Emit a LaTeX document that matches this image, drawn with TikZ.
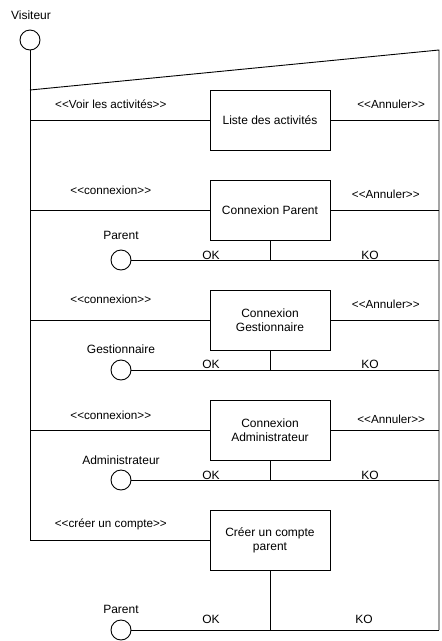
\documentclass[tikz,border=0pt]{standalone}
\usepackage{fontspec}
\setmainfont{Liberation Sans}
\usetikzlibrary{positioning}
\newcommand{\stereo}[1]{{\fontsize{11.7}{13}\selectfont\textless\kern0pt\textless#1\textgreater\kern0pt\textgreater}}

\begin{document}
\begin{tikzpicture}[x=1pt,y=-1pt,line width=0.9pt,
    every node/.style={font=\fontsize{12}{14}\selectfont},
    actor/.style={circle,draw,minimum size=20pt,inner sep=0pt},
    screen/.style={draw,minimum width=120pt,minimum height=60pt,align=center,inner sep=2pt},
    lbl/.style={inner sep=0pt}]
    \useasboundingbox (0,0) rectangle (442,641);

    % visiteur et cadre
    \node[lbl] (visiteur) at (31,15) {Visiteur};
    \node[actor] (v) at (30,40) {};
    \coordinate (tl) at (30,90);
    \coordinate (tr) at (439,50);
    \coordinate (br) at (439,630);
    \coordinate (bl) at (30,540);
    \draw (v.south) -- (bl);
    \draw (tl) -- (tr) -- (br);

    % ecrans
    \node[screen] (liste) at (270,120) {Liste des activités};
    \node[screen] (cparent) at (270,210) {Connexion Parent};
    \node[screen] (cgest) at (270,320) {Connexion\\Gestionnaire};
    \node[screen] (cadmin) at (270,430) {Connexion\\Administrateur};
    \node[screen] (creer) at (270,540) {Créer un compte\\parent};

    \draw (liste.west) -- (liste.west -| v) node[lbl,pos=.55,yshift=16pt] {\stereo{Voir les activités}};
    \draw (liste.east) -- (liste.east -| tr) node[lbl,pos=.56,yshift=16pt] {\stereo{Annuler}};
    \draw (cparent.west) -- (cparent.west -| v) node[lbl,pos=.55,yshift=20pt] {\stereo{connexion}};
    \draw (cparent.east) -- (cparent.east -| tr) node[lbl,pos=.51,yshift=16pt] {\stereo{Annuler}};
    \draw (cgest.west) -- (cgest.west -| v) node[lbl,pos=.55,yshift=21pt] {\stereo{connexion}};
    \draw (cgest.east) -- (cgest.east -| tr) node[lbl,pos=.51,yshift=16pt] {\stereo{Annuler}};
    \draw (cadmin.west) -- (cadmin.west -| v) node[lbl,pos=.55,yshift=15pt] {\stereo{connexion}};
    \draw (cadmin.east) -- (cadmin.east -| tr) node[lbl,pos=.56,yshift=11pt] {\stereo{Annuler}};
    \draw (creer.west) -- (bl) node[lbl,pos=.55,yshift=16pt] {\stereo{créer un compte}};

    % acteurs connectes
    \node[actor] (parent) at (121,260) {};
    \node[lbl] (parentlbl) at (121,235) {Parent};
    \draw (parent.east) -- (parent.east -| br);
    \draw (cparent.south) -- (cparent.south |- parent);
    \node[lbl] (ok1) at (211,255) {OK};
    \node[lbl] (ko1) at (370,255) {KO};

    \node[actor] (gest) at (121,370) {};
    \node[lbl] (gestlbl) at (121,349) {Gestionnaire};
    \draw (gest.east) -- (gest.east -| br);
    \draw (cgest.south) -- (cgest.south |- gest);
    \node[lbl] (ok2) at (211,364) {OK};
    \node[lbl] (ko2) at (370,364) {KO};

    \node[actor] (admin) at (121,480) {};
    \node[lbl] (adminlbl) at (121,460) {Administrateur};
    \draw (admin.east) -- (admin.east -| br);
    \draw (cadmin.south) -- (cadmin.south |- admin);
    \node[lbl] (ok3) at (211,475) {OK};
    \node[lbl] (ko3) at (370,475) {KO};

    \node[actor] (parent2) at (121,630) {};
    \node[lbl] (parent2lbl) at (121,609) {Parent};
    \draw (parent2.east) -- (br);
    \draw (creer.south) -- (creer.south |- parent2);
    \node[lbl] (ok4) at (211,619) {OK};
    \node[lbl] (ko4) at (364,619) {KO};

\end{tikzpicture}
\end{document}
